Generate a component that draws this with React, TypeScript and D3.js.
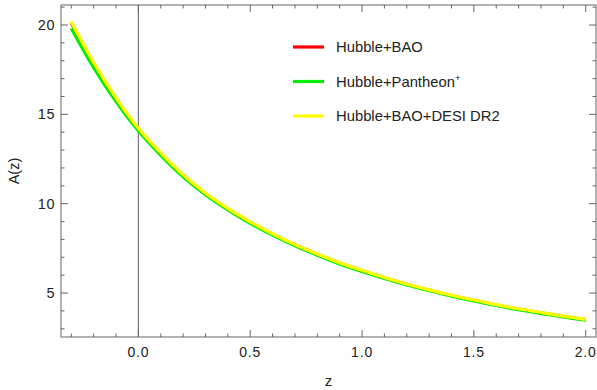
import React from "react";
import * as d3 from "d3";

// redshift grid and A(z)
const zValues = [
  -0.3, -0.2, -0.1, 0.0, 0.1, 0.2, 0.3, 0.4, 0.5, 0.6, 0.7, 0.8, 0.9, 1.0,
  1.1, 1.2, 1.3, 1.4, 1.5, 1.6, 1.7, 1.8, 1.9, 2.0,
];
const hubbleBao = [
  20.12, 17.85, 15.88, 14.19, 12.81, 11.59, 10.57, 9.71, 8.96, 8.29, 7.7,
  7.17, 6.68, 6.25, 5.85, 5.49, 5.16, 4.86, 4.59, 4.33, 4.1, 3.89, 3.69, 3.51,
];
const hubblePantheon = [
  19.81, 17.62, 15.72, 14.08, 12.71, 11.51, 10.5, 9.65, 8.9, 8.24, 7.65,
  7.12, 6.63, 6.2, 5.81, 5.45, 5.13, 4.83, 4.56, 4.3, 4.07, 3.86, 3.66, 3.48,
];
const hubbleBaoDesi = [
  20.18, 17.9, 15.92, 14.22, 12.84, 11.62, 10.6, 9.74, 8.99, 8.32, 7.72, 7.19,
  6.7, 6.27, 5.87, 5.51, 5.18, 4.88, 4.61, 4.35, 4.12, 3.91, 3.71, 3.53,
];

const seriesNames = ["Hubble+BAO", "Hubble+Pantheon", "Hubble+BAO+DESI DR2"];
const seriesColors = ["#ff0000", "#00ee00", "#ffff00"];

const xTickLabels = [0.0, 0.5, 1.0, 1.5, 2.0];
const yTickLabels = [5, 10, 15, 20];

const width = 597;
const height = 390;
const frame = { left: 61, right: 596, top: 5, bottom: 337 };

const App: React.FC = () => {
  const x = d3.scaleLinear().domain([-0.346, 2.046]).range([frame.left, frame.right]);
  const y = d3.scaleLinear().domain([2.54, 21.12]).range([frame.bottom, frame.top]);

  const line = d3
    .line<number>()
    .curve(d3.curveCatmullRom)
    .x((_, i) => x(zValues[i]))
    .y((d) => y(d));

  const allSeries = [hubbleBao, hubblePantheon, hubbleBaoDesi];

  const xMinor = d3.range(-3, 21).map((k) => k / 10);
  const yMinor = d3.range(3, 22);
  const frameColor = "#666";
  const font = "'Liberation Sans', Arial, sans-serif";

  return (
    <svg
      width={width}
      height={height}
      style={{ position: "absolute", left: 0, top: 0, background: "#fff" }}
      fontFamily={font}
    >
      {/* zero line */}
      <line x1={x(0)} x2={x(0)} y1={frame.top} y2={frame.bottom} stroke="#777" strokeWidth={1.2} />

      {/* curves */}
      {allSeries.map((s, i) => (
        <path key={i} d={line(s) ?? ""} fill="none" stroke={seriesColors[i]} strokeWidth={3.2} />
      ))}

      {/* frame */}
      <rect
        x={frame.left}
        y={frame.top}
        width={frame.right - frame.left}
        height={frame.bottom - frame.top}
        fill="none"
        stroke={frameColor}
        strokeWidth={1}
      />

      {/* x ticks bottom & top */}
      {xMinor.map((v) => {
        const major = Math.abs((v * 10) % 5) < 1e-6;
        const len = major ? 7 : 3.5;
        return (
          <g key={"x" + v} stroke={frameColor}>
            <line x1={x(v)} x2={x(v)} y1={frame.bottom} y2={frame.bottom - len} />
            <line x1={x(v)} x2={x(v)} y1={frame.top} y2={frame.top + len} />
          </g>
        );
      })}
      {xTickLabels.map((v) => (
        <text
          key={"xl" + v}
          x={x(v)}
          y={357}
          textAnchor="middle"
          fontSize={14}
          letterSpacing={0.8}
          fill="#222"
        >
          {v.toFixed(1)}
        </text>
      ))}

      {/* y ticks left & right */}
      {yMinor.map((v) => {
        const major = v % 5 === 0;
        const len = major ? 7 : 3.5;
        return (
          <g key={"y" + v} stroke={frameColor}>
            <line x1={frame.left} x2={frame.left + len} y1={y(v)} y2={y(v)} />
            <line x1={frame.right} x2={frame.right - len} y1={y(v)} y2={y(v)} />
          </g>
        );
      })}
      {yTickLabels.map((v) => (
        <text
          key={"yl" + v}
          x={55}
          y={y(v)}
          dy="0.35em"
          textAnchor="end"
          fontSize={14.5}
          letterSpacing={0.5}
          fill="#222"
        >
          {v}
        </text>
      ))}

      {/* axis titles */}
      <text x={(frame.left + frame.right) / 2} y={386} textAnchor="middle" fontSize={15} fill="#222">
        z
      </text>
      <text
        transform={`translate(19,${(frame.top + frame.bottom) / 2}) rotate(-90)`}
        textAnchor="middle"
        fontSize={14.5}
        fill="#222"
      >
        A(z)
      </text>

      {/* legend */}
      {seriesNames.map((name, i) => {
        const ly = 47 + i * 34.5;
        return (
          <g key={name}>
            <line x1={293} x2={324} y1={ly} y2={ly} stroke={seriesColors[i]} strokeWidth={3.2} />
            <text x={336} y={ly} dy="0.35em" fontSize={14.8} fill="#222">
              {name}
              {i === 1 && (
                <tspan fontSize={9.5} dy="-0.55em">
                  +
                </tspan>
              )}
            </text>
          </g>
        );
      })}
    </svg>
  );
};

export default App;
